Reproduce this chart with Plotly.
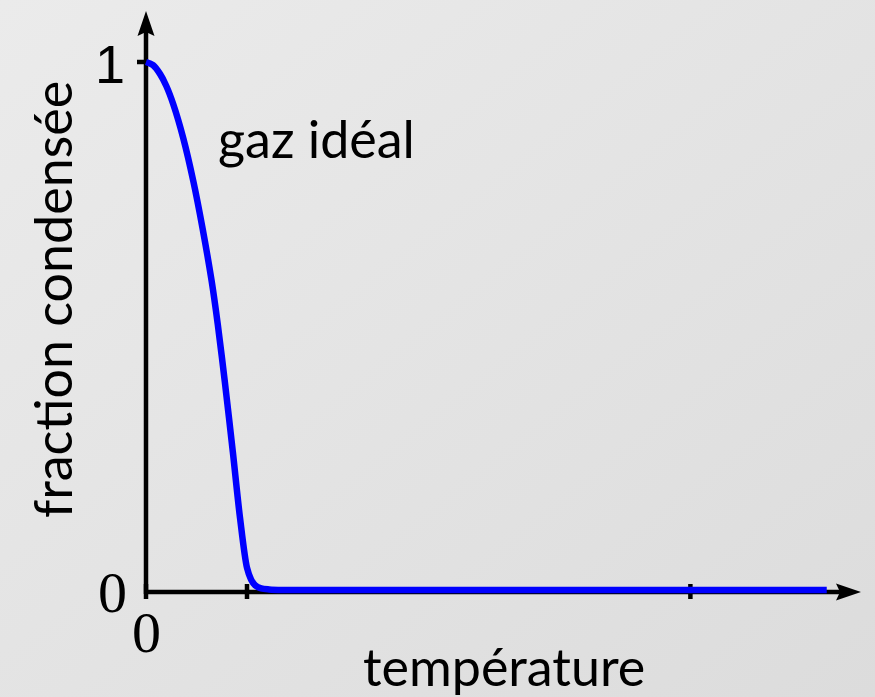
import base64

import plotly.graph_objects as go

# Condensed fraction vs temperature (T in units of the first tick)
temperature = [0.0, 0.07, 0.14, 0.20, 0.27, 0.37, 0.47, 0.56, 0.65, 0.71,
               0.78, 0.86, 0.93, 1.00, 1.04, 1.08, 1.14, 1.22, 1.35, 6.74]
fraction = [1.0, 0.994, 0.977, 0.955, 0.92, 0.855, 0.773, 0.685, 0.585, 0.504,
            0.395, 0.261, 0.138, 0.042, 0.020, 0.009, 0.003, 0.001, 0.0, 0.0]

x_ticks = [0, 1, 5.39]
y_ticks = [1]
x_tick_labels = ["0"]
y_tick_labels = ["0", "1"]

X_LABEL = "température"
Y_LABEL = "fraction condensée"
CURVE_LABEL = "gaz idéal"

W, H = 875, 697
BLUE = "#0000ff"

# pixel <-> data helpers (layout only)
OX, OY = 146, 590
SX, SY = 101, 528


def px(x):
    return (x - OX) / SX


def py(y):
    return (OY - y) / SY


# soft diagonal grey gradient for the background
svg = (
    f'<svg xmlns="http://www.w3.org/2000/svg" width="{W}" height="{H}">'
    '<defs><linearGradient id="g" x1="0" y1="0" x2="1" y2="1">'
    '<stop offset="0" stop-color="#ebebeb"/><stop offset="1" stop-color="#dcdcdc"/>'
    '</linearGradient></defs>'
    f'<rect width="{W}" height="{H}" fill="url(#g)"/></svg>'
)
bg_src = "data:image/svg+xml;base64," + base64.b64encode(svg.encode()).decode()

fig = go.Figure()
fig.add_trace(go.Scatter(
    x=temperature, y=fraction, mode="lines",
    line=dict(color=BLUE, width=6.5, shape="spline", smoothing=0.9),
    hoverinfo="skip", showlegend=False,
))

shapes = []
AX = dict(color="black", width=4.5)
# axes lines
shapes.append(dict(type="line", xref="x", yref="y", x0=0, x1=0,
                   y0=py(594), y1=py(30), line=AX, layer="below"))
shapes.append(dict(type="line", xref="x", yref="y", x0=px(144), x1=px(842),
                   y0=py(592), y1=py(592), line=AX, layer="below"))
# arrowheads
shapes.append(dict(type="path", xref="x", yref="y", fillcolor="black", line=dict(width=0),
                   path=f"M {px(146)},{py(11)} L {px(154.5)},{py(36)} L {px(146)},{py(32)} "
                        f"L {px(137.5)},{py(36)} Z"))
shapes.append(dict(type="path", xref="x", yref="y", fillcolor="black", line=dict(width=0),
                   path=f"M {px(861)},{py(592)} L {px(836)},{py(583.5)} L {px(840)},{py(592)} "
                        f"L {px(836)},{py(600.5)} Z"))
# ticks
for t in x_ticks:
    shapes.append(dict(type="line", xref="x", yref="y", x0=t, x1=t,
                       y0=py(584), y1=py(599), line=AX, layer="below"))
for t in y_ticks:
    shapes.append(dict(type="line", xref="x", yref="y", x0=px(137), x1=0,
                       y0=t, y1=t, line=AX, layer="below"))

ann = []
serif = dict(family="Liberation Serif", size=58, color="black")
sans = dict(family="Lato", size=52, color="black")
ann.append(dict(x=px(112), y=py(592), text=y_tick_labels[0], font=serif))
ann.append(dict(x=px(146), y=py(632), text=x_tick_labels[0], font=serif))
ann.append(dict(x=px(110), y=py(64), text=y_tick_labels[1],
                font=dict(family="Liberation Sans", size=54, color="black")))
ann.append(dict(x=px(504), y=py(666), text=X_LABEL, font=sans))
ann.append(dict(x=px(316), y=py(138), text=CURVE_LABEL, font=sans))
ann.append(dict(x=px(52), y=py(300), text=Y_LABEL, font=sans, textangle=-90))
for a in ann:
    a.update(xref="x", yref="y", showarrow=False, xanchor="center", yanchor="middle")

fig.update_layout(
    width=W, height=H,
    margin=dict(l=0, r=0, t=0, b=0),
    paper_bgcolor="#e3e3e3", plot_bgcolor="rgba(0,0,0,0)",
    xaxis=dict(range=[px(0), px(W)], visible=False, fixedrange=True),
    yaxis=dict(range=[py(H), py(0)], visible=False, fixedrange=True),
    images=[dict(source=bg_src, xref="paper", yref="paper", x=0, y=1,
                 sizex=1, sizey=1, sizing="stretch", layer="below")],
    shapes=shapes, annotations=ann,
    showlegend=False,
)

fig.write_html("out.html", config={"displayModeBar": False},
               post_script="document.body.style.margin='0px';")
